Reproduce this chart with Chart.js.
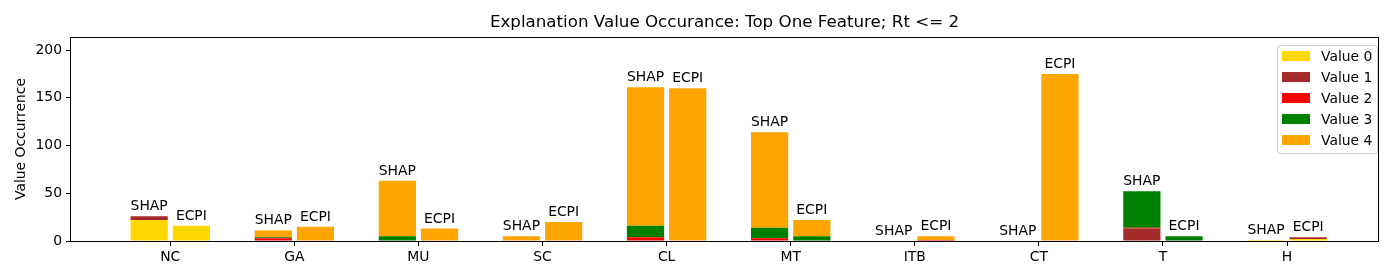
<!DOCTYPE html>
<html>
<head>
<meta charset="utf-8">
<script src="https://cdn.jsdelivr.net/npm/chart.js@4.4.1/dist/chart.umd.min.js"></script>
<style>
  html, body { margin: 0; padding: 0; background: #fff; }
  canvas { display: block; }
</style>
</head>
<body>
<canvas id="chart" width="1400" height="280"></canvas>
<script>
const categories = ["NC", "GA", "MU", "SC", "CL", "MT", "ITB", "CT", "T", "H"]
const methods = ["SHAP", "ECPI"]
const valueLabels = ["Value 0", "Value 1", "Value 2", "Value 3", "Value 4"]
const valueColors = ["#ffd700", "#a52a2a", "#ff0000", "#008000", "#ffa500"]
const yTicks = [0, 50, 100, 150, 200]

// counts per value, one entry per category
const shapValue0 = [22, 0, 0, 0, 0, 0, 0, 0, 0, 1]
const shapValue1 = [4, 0, 0, 0, 0, 0, 0, 0, 13, 0]
const shapValue2 = [0, 3, 0, 0, 4, 3, 0, 0, 1, 0]
const shapValue3 = [0, 1, 5, 0, 12, 11, 0, 0, 38, 0]
const shapValue4 = [0, 7, 58, 5, 145, 100, 0, 0, 0, 0]

const ecpiValue0 = [16, 0, 0, 0, 0, 0, 0, 0, 0, 2]
const ecpiValue1 = [0, 0, 0, 0, 0, 0, 0, 0, 0, 2]
const ecpiValue2 = [0, 0, 0, 0, 0, 0, 1, 0, 0, 0]
const ecpiValue3 = [0, 0, 0, 0, 0, 5, 0, 0, 5, 0]
const ecpiValue4 = [0, 15, 13, 20, 160, 17, 4, 175, 0, 0]

const shapValues = [shapValue0, shapValue1, shapValue2, shapValue3, shapValue4]
const ecpiValues = [ecpiValue0, ecpiValue1, ecpiValue2, ecpiValue3, ecpiValue4]

const FONT = "'DejaVu Sans', sans-serif"
Chart.defaults.font.family = FONT
Chart.defaults.font.size = 13.9
Chart.defaults.color = "#000"

const datasets = []
valueLabels.forEach((label, k) => {
  ;[shapValues, ecpiValues].forEach((source, m) => {
    datasets.push({
      label: label,
      stack: methods[m],
      data: source[k].map((v, i) => ({ x: i, y: v })),
      backgroundColor: valueColors[k],
      borderWidth: 0
    })
  })
})

// SHAP / ECPI text above each stacked bar
const barLabels = {
  id: "barLabels",
  afterDatasetsDraw(chart) {
    const ctx = chart.ctx
    ctx.save()
    ctx.font = `13.9px ${FONT}`
    ctx.fillStyle = "#000"
    ctx.textAlign = "center"
    ctx.textBaseline = "alphabetic"
    methods.forEach((method, m) => {
      const lastIndex = datasets.length - methods.length + m
      chart.getDatasetMeta(lastIndex).data.forEach((bar) => {
        ctx.fillText(method, bar.x, bar.y - 6)
      })
    })
    ctx.restore()
  }
}

// full box around the plot, like matplotlib spines
const frame = {
  id: "frame",
  afterDatasetsDraw(chart) {
    const { left, top, right, bottom } = chart.chartArea
    const ctx = chart.ctx
    ctx.save()
    ctx.strokeStyle = "#000"
    ctx.lineWidth = 1
    ctx.strokeRect(Math.round(left) - 0.5, Math.round(top) + 0.5, Math.round(right - left) + 1, Math.round(bottom - top))
    ctx.restore()
  }
}

// legend inside the plot, top right
const insideLegend = {
  id: "insideLegend",
  afterDraw(chart) {
    const { top, right } = chart.chartArea
    const ctx = chart.ctx
    const x0 = right - 101, y0 = top + 8, w = 100, h = 108
    ctx.save()
    ctx.beginPath()
    ctx.roundRect(x0 + 0.5, y0 + 0.5, w, h, 3)
    ctx.fillStyle = "rgba(255,255,255,0.8)"
    ctx.fill()
    ctx.strokeStyle = "#cccccc"
    ctx.lineWidth = 1
    ctx.stroke()
    ctx.font = `13.9px ${FONT}`
    ctx.textBaseline = "middle"
    ctx.textAlign = "left"
    valueLabels.forEach((label, k) => {
      const cy = y0 + 11 + k * 21
      ctx.fillStyle = valueColors[k]
      ctx.fillRect(x0 + 5, cy - 5, 28, 10)
      ctx.fillStyle = "#000"
      ctx.fillText(label, x0 + 44, cy + 1)
    })
    ctx.restore()
  }
}

new Chart(document.getElementById("chart"), {
  type: "bar",
  data: { datasets },
  plugins: [barLabels, frame, insideLegend],
  options: {
    responsive: false,
    animation: false,
    layout: { padding: { left: 0, right: 22, top: 0, bottom: 0 } },
    datasets: { bar: { categoryPercentage: 0.68, barPercentage: 0.882 } },
    plugins: {
      legend: { display: false },
      tooltip: { enabled: false },
      title: {
        display: true,
        fullSize: false,
        text: "Explanation Value Occurance: Top One Feature; Rt <= 2",
        color: "#000",
        font: { size: 16.7, weight: "normal" },
        padding: { top: 13, bottom: 4 }
      }
    },
    scales: {
      x: {
        type: "linear",
        stacked: true,
        offset: false,
        bounds: "data",
        min: -0.8,
        max: 9.733,
        border: { display: false },
        grid: { offset: false, drawOnChartArea: false, drawTicks: true, tickLength: 5, color: "#000" },
        ticks: {
          padding: 3,
          maxRotation: 0,
          autoSkip: false,
          callback: (v) => categories[v] ?? ""
        },
        afterBuildTicks: (scale) => { scale.ticks = categories.map((c, i) => ({ value: i })) },
        afterFit: (scale) => { scale.height = 39 }
      },
      y: {
        stacked: true,
        min: 0,
        max: 213.6,
        border: { display: false },
        grid: { drawOnChartArea: false, drawTicks: true, tickLength: 5, color: "#000" },
        ticks: {
          stepSize: 50,
          includeBounds: false,
          padding: 4,
          callback: (v) => yTicks.includes(v) ? String(v) : ""
        },
        title: {
          display: true,
          text: "Value Occurrence",
          color: "#000",
          font: { size: 13.9 },
          padding: { top: 13, bottom: 0 }
        },
        afterFit: (scale) => { scale.width = 71 }
      }
    }
  }
})
</script>
</body>
</html>
